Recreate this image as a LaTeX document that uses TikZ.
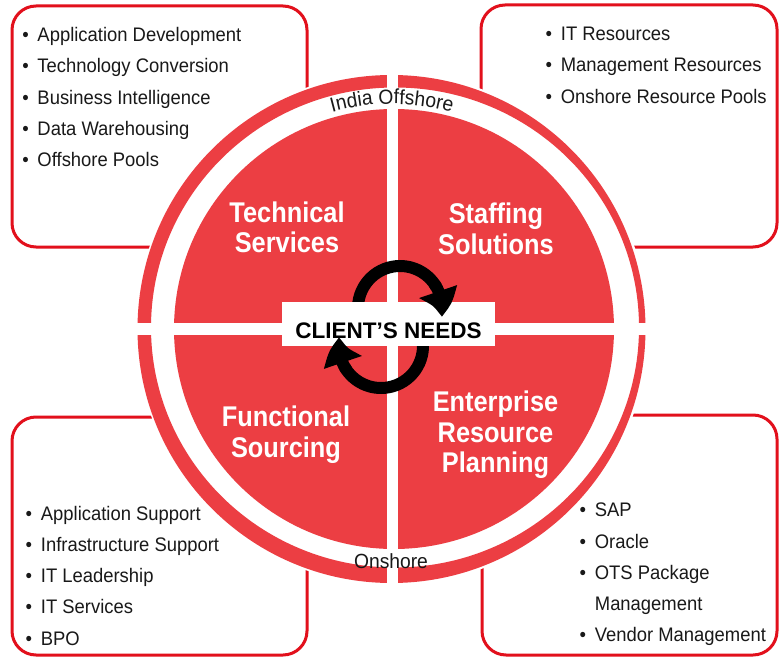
\documentclass[tikz,border=0pt]{standalone}
\usepackage{fontspec}
\setmainfont{Liberation Sans}
\newfontfamily\headfont[FakeStretch=0.89]{Liberation Sans}
\newfontfamily\itemfont[FakeStretch=0.94]{Liberation Sans}
\usetikzlibrary{arrows.meta,bending,decorations.text}
\definecolor{diskred}{RGB}{236,62,67}
\definecolor{boxred}{RGB}{226,16,28}
\definecolor{inkgray}{RGB}{25,25,25}
\newcommand{\bul}{\llap{\textbullet\hspace{8.8pt}}}
\begin{document}
\begin{tikzpicture}[x=1pt,y=-1pt,
  infobox/.style={draw=boxred, line width=3pt, fill=white, rounded corners=24pt, inner sep=0pt},
  item/.style={anchor=base west, inner sep=0pt, font=\itemfont\fontsize{19.6}{22}\selectfont, text=inkgray},
  head/.style={align=center, inner sep=0pt, text=white, font=\headfont\bfseries\fontsize{28.5}{30.5}\selectfont},
  ringlabel/.style={anchor=base, inner sep=0pt, font=\itemfont\fontsize{20.5}{22}\selectfont, text=inkgray},
  cycarrow/.style={line width=12pt, black},
  cychead/.style={cycarrow, -{Triangle[width=38pt,length=26pt,bend]}},
]
\useasboundingbox (0,0) rectangle (784,658);
\fill[white] (0,0) rectangle (784,658);

% corner boxes
\node[infobox, minimum width=295pt, minimum height=241pt] (tlbox) at (159.5,126.5) {};
\node[infobox, minimum width=296pt, minimum height=242pt] (trbox) at (629,126) {};
\node[infobox, minimum width=295pt, minimum height=238pt] (blbox) at (159.5,536) {};
\node[infobox, minimum width=295pt, minimum height=240pt] (brbox) at (629.5,535) {};

% circle background, ring, disk
\fill[white] (392,329) circle[radius=256];
\fill[diskred, even odd rule] (391.5,329) circle[radius=254] (395,327.5) ellipse[x radius=244, y radius=240];
\fill[diskred] (394,329) circle[radius=220];
\draw[white, line width=11pt] (392.5,68) -- (392.5,590);
\draw[white, line width=12pt] (130,329) -- (655,329);

% ring labels
\path[decorate, decoration={text along path, text align=center,
  text={|\itemfont\fontsize{20.5}{22}\selectfont\color{inkgray}|India Offshore}}]
  (392,329) ++(238:225) arc[start angle=238, end angle=302, radius=225];
\node[ringlabel] (onshore) at (391,568) {Onshore};

% quadrant headings
\node[head] (tech) at (287,227.5) {Technical\\Services};
\node[head] (staff) at (496,229) {Staffing\\Solutions};
\node[head] (func) at (286,434.8) {Functional\\Sourcing};
\node[head] (erp) at (495.5,435.1) {Enterprise\\Resource\\Planning};

% cycle arrows (bodies)
\coordinate (topc) at (400,308);
\coordinate (botc) at (381,346);
\draw[cycarrow] (topc) ++(170:42) arc[start angle=170, end angle=330, radius=42];
\draw[cycarrow] (botc) ++(-10:42) arc[start angle=-10, end angle=150, radius=42];

% centre box
\node[fill=white, minimum width=213pt, minimum height=44pt, inner sep=0pt,
  text height=28pt, text depth=0pt,
  font=\bfseries\fontsize{22.5}{24}\selectfont] (needs) at (388.5,324) {CLIENT’S NEEDS};

% cycle arrow heads
\draw[cychead] (topc) ++(325:42) arc[start angle=325, end angle=372, radius=42];
\draw[cychead] (botc) ++(145:42) arc[start angle=145, end angle=192, radius=42];

% box items
\foreach \t [count=\i] in {Application Development, Technology Conversion, Business Intelligence, Data Warehousing, Offshore Pools}
  \node[item] (tl\i) at (37.3,{41.7+31.25*(\i-1)}) {\bul\t};
\foreach \t [count=\i] in {IT Resources, Management Resources, Onshore Resource Pools}
  \node[item] (tr\i) at (560.7,{40.7+31.3*(\i-1)}) {\bul\t};
\foreach \t [count=\i] in {Application Support, Infrastructure Support, IT Leadership, IT Services, BPO}
  \node[item] (bl\i) at (40.7,{520+31.25*(\i-1)}) {\bul\t};
\node[item] (br1) at (594.7,516.7) {\bul SAP};
\node[item] (br2) at (594.7,548) {\bul Oracle};
\node[item] (br3) at (594.7,579.2) {\bul OTS Package};
\node[item] (br4) at (594.7,610.5) {Management};
\node[item] (br5) at (594.7,641.7) {\bul Vendor Management};
\end{tikzpicture}
\end{document}
